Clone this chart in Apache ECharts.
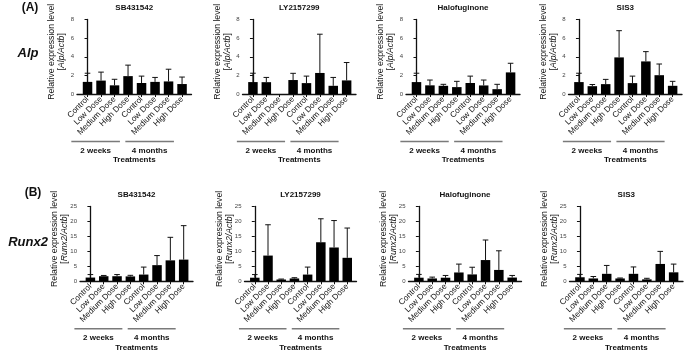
<!DOCTYPE html>
<html>
<head>
<meta charset="utf-8">
<script src="https://cdn.jsdelivr.net/npm/echarts@6/dist/echarts.min.js"></script>
<style>
html, body { margin: 0; padding: 0; background: #fff; }
#main { width: 685px; height: 351px; }
</style>
</head>
<body>
<div id="main"></div>
<script>
const drugs = ['SB431542', 'LY2157299', 'Halofuginone', 'SIS3'];
const categories = ['Control', 'Low Dose', 'Medium Dose', 'High Dose', 'Control', 'Low Dose', 'Medium Dose', 'High Dose'];
const periods = ['2 weeks', '4 months'];
const periodRanges = [[0, 3], [4, 7]];

// Alp / Actb, one row per drug (mean, SD)
const alpMean = [
    [1.3, 1.44, 0.93, 1.92, 1.18, 1.3, 1.35, 1.07],
    [1.28, 1.27, 0, 1.5, 1.17, 2.26, 0.88, 1.46],
    [1.28, 0.93, 0.88, 0.74, 1.18, 0.92, 0.52, 2.32],
    [1.28, 0.84, 1.06, 3.93, 1.17, 3.5, 2.02, 0.88]
];
const alpSd = [
    [0.93, 0.91, 0.65, 1.18, 0.74, 0.48, 1.31, 0.75],
    [0.95, 0.51, 0, 0.72, 0.75, 4.16, 0.9, 1.92],
    [0.95, 0.57, 0.16, 0.62, 0.74, 0.58, 0.52, 0.98],
    [0.95, 0.18, 0.51, 2.87, 0.75, 1.05, 1.2, 0.48]
];

// Runx2 / Actb
const runxMean = [
    [1.25, 1.7, 1.7, 1.63, 2.25, 5.4, 7.0, 7.25],
    [1.2, 8.6, 0.6, 0.95, 2.25, 13.05, 11.3, 7.85],
    [1.2, 0.95, 1.2, 2.95, 2.3, 7.1, 3.8, 1.25],
    [1.35, 0.95, 2.5, 0.95, 2.5, 0.65, 5.8, 3.0]
];
const runxSd = [
    [1.0, 0.25, 0.55, 0.37, 2.5, 3.2, 7.7, 11.35],
    [1.05, 10.3, 0.15, 0.25, 2.5, 7.85, 9.0, 9.95],
    [1.1, 0.45, 0.75, 2.8, 2.4, 6.7, 6.4, 0.7],
    [0.95, 0.65, 2.8, 0.15, 2.3, 0.35, 4.2, 2.75]
];

const FONT = "'Liberation Sans', Arial, sans-serif";

const rows = [
    {
        gene: 'Alp', mean: alpMean, sd: alpSd, max: 8, step: 2,
        top: 19.5, height: 74.5, titleY: 8,
        lefts: [77, 242.5, 406, 568.5], widths: [114.5, 113.5, 114, 113.5]
    },
    {
        gene: 'Runx2', mean: runxMean, sd: runxSd, max: 25, step: 5,
        top: 206.5, height: 74.8, titleY: 194.5,
        lefts: [80, 244.5, 408.5, 569.5], widths: [113, 112, 113, 113.5]
    }
];

const grid = [], xAxis = [], yAxis = [], series = [], graphic = [];
const ticks = categories.map((c, i) => i);

rows.forEach((row) => {
    drugs.forEach((drug, d) => {
        const k = grid.length;
        grid.push({
            left: row.lefts[d], top: row.top, width: row.widths[d], height: row.height,
            outerBoundsMode: 'none'
        });
        graphic.push({
            type: 'text',
            x: row.lefts[d] + row.widths[d] / 2,
            y: row.titleY,
            style: {
                text: drug, textAlign: 'center', textVerticalAlign: 'middle',
                font: 'bold 8px ' + FONT, fill: '#111'
            }
        });
        xAxis.push({
            type: 'value', gridIndex: k, min: -0.78, max: 7.7,
            axisLine: {show: true, onZero: false, lineStyle: {color: '#111', width: 1.3}},
            axisTick: {show: true, length: 3, customValues: ticks, lineStyle: {color: '#111'}},
            axisLabel: {
                customValues: ticks,
                formatter: v => categories[v],
                rotate: 45, fontSize: 8.2, margin: 4, color: '#111', fontFamily: FONT
            },
            splitLine: {show: false},
            name: 'Treatments', nameLocation: 'middle', nameGap: 62, nameMoveOverlap: false,
            nameTextStyle: {fontWeight: 'bold', fontSize: 8, color: '#111', fontFamily: FONT}
        });
        yAxis.push({
            type: 'value', gridIndex: k, min: 0, max: row.max, interval: row.step,
            axisLine: {show: true, lineStyle: {color: '#111', width: 1.3}},
            axisTick: {show: true, length: 3, lineStyle: {color: '#111'}},
            axisLabel: {fontSize: 6, color: '#444', margin: 3, fontFamily: FONT},
            splitLine: {show: false},
            name: 'Relative expression level\n[{i|' + row.gene + '/Actb}]',
            nameLocation: 'middle', nameRotate: 90, nameGap: 10, nameMoveOverlap: false,
            nameTextStyle: {
                fontSize: 8.7, color: '#111', fontFamily: FONT, lineHeight: 10,
                padding: [0, 0, 0, 10],
                rich: {i: {fontStyle: 'italic', fontSize: 8.7, color: '#111', fontFamily: FONT, lineHeight: 10}}
            }
        });
        series.push({
            type: 'bar', xAxisIndex: k, yAxisIndex: k, silent: true,
            barWidth: 9.5,
            itemStyle: {color: '#000'},
            data: row.mean[d].map((v, i) => [i, v])
        });
        // upper error whiskers (SD)
        series.push({
            type: 'custom', xAxisIndex: k, yAxisIndex: k, silent: true, clip: false,
            data: row.mean[d].map((v, i) => [i, v, row.sd[d][i]]),
            encode: {x: 0, y: 1},
            renderItem: (params, api) => {
                const s = api.value(2);
                if (!s) return;
                const p0 = api.coord([api.value(0), api.value(1)]);
                const p1 = api.coord([api.value(0), api.value(1) + s]);
                const st = {stroke: '#111', lineWidth: 1};
                return {
                    type: 'group', children: [
                        {type: 'line', shape: {x1: p0[0], y1: p0[1], x2: p1[0], y2: p1[1]}, style: st},
                        {type: 'line', shape: {x1: p1[0] - 2.8, y1: p1[1], x2: p1[0] + 2.8, y2: p1[1]}, style: st}
                    ]
                };
            }
        });
        // group brackets under labels
        series.push({
            type: 'custom', xAxisIndex: k, yAxisIndex: k, silent: true, clip: false,
            data: periodRanges,
            encode: {x: [0, 1]},
            renderItem: (params, api) => {
                const a = api.coord([api.value(0) - 1.2, 0]);
                const b = api.coord([api.value(1) - 0.6, 0]);
                const y = a[1] + 47.5;
                return {
                    type: 'group', children: [
                        {type: 'line', shape: {x1: a[0], y1: y, x2: b[0], y2: y},
                            style: {stroke: '#7a7a7a', lineWidth: 1.5}},
                        {type: 'text', x: (a[0] + b[0]) / 2, y: y + 9,
                            style: {text: periods[params.dataIndex], textAlign: 'center', textVerticalAlign: 'middle',
                                font: 'bold 8px ' + FONT, fill: '#111'}}
                    ]
                };
            }
        });
    });
});

graphic.push(
    {type: 'text', x: 30, y: 8, style: {text: '(A)', textAlign: 'center', textVerticalAlign: 'middle', font: 'bold 12px ' + FONT, fill: '#111'}},
    {type: 'text', x: 28, y: 53, style: {text: 'Alp', textAlign: 'center', textVerticalAlign: 'middle', font: 'italic bold 13px ' + FONT, fill: '#111'}},
    {type: 'text', x: 33, y: 193, style: {text: '(B)', textAlign: 'center', textVerticalAlign: 'middle', font: 'bold 12px ' + FONT, fill: '#111'}},
    {type: 'text', x: 28, y: 242, style: {text: 'Runx2', textAlign: 'center', textVerticalAlign: 'middle', font: 'italic bold 13px ' + FONT, fill: '#111'}}
);

const chart = echarts.init(document.getElementById('main'));
chart.setOption({
    backgroundColor: '#fff',
    animation: false,
    grid: grid,
    xAxis: xAxis,
    yAxis: yAxis,
    series: series,
    graphic: graphic
});
</script>
</body>
</html>
